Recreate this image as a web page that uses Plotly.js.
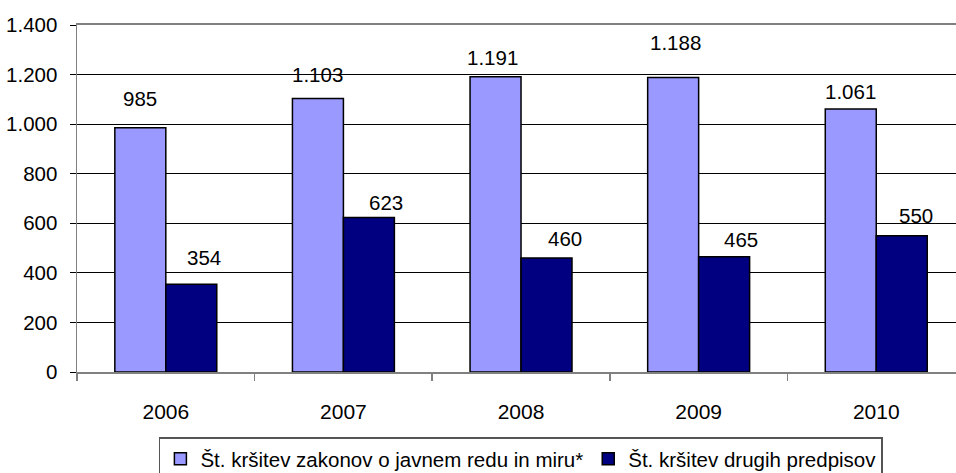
<!DOCTYPE html>
<html>
<head>
<meta charset="utf-8">
<script src="https://cdn.plot.ly/plotly-3.0.1.min.js"></script>
<style>html,body{margin:0;padding:0;background:#fff;}#chart{width:956px;height:473px;}</style>
</head>
<body>
<div id="chart"></div>
<script>
// Data
var years = ['2006', '2007', '2008', '2009', '2010'];
var zakoniValues = [985, 1103, 1191, 1188, 1061];
var drugiValues = [354, 623, 460, 465, 550];
var seriesNames = ['Št. kršitev zakonov o javnem redu in miru*', 'Št. kršitev drugih predpisov'];

// Label placement (pixel offsets, style only)
var zakLabelDy = [29, 24, 19, 35, 18];
var zakLabelDx = [0, 0, -3, 2, 0];
var drugiLabelDy = [27, 15, 19, 17, 20];
var drugiLabelDx = [13, 17, 18, 17, 14];

var FONT = 'Liberation Sans, Arial, sans-serif';

function fmt(v) {
  return String(v).replace(/\B(?=(\d{3})+(?!\d))/g, '.');
}

var traces = [
  {type: 'bar', name: seriesNames[0], x: years, y: zakoniValues,
   marker: {color: '#9999FF', line: {color: '#000000', width: 1.5}}, hoverinfo: 'none'},
  {type: 'bar', name: seriesNames[1], x: years, y: drugiValues,
   marker: {color: '#000080', line: {color: '#000000', width: 1.5}}, hoverinfo: 'none'}
];

var barHalfPx = 25.5;
var annotations = [];
years.forEach(function (yr, i) {
  annotations.push({xref: 'x', yref: 'y', x: i, y: zakoniValues[i], text: fmt(zakoniValues[i]),
    showarrow: false, xanchor: 'center', yanchor: 'middle',
    xshift: -barHalfPx + zakLabelDx[i], yshift: zakLabelDy[i],
    font: {family: FONT, size: 20.5, color: '#000'}});
  annotations.push({xref: 'x', yref: 'y', x: i, y: drugiValues[i], text: fmt(drugiValues[i]),
    showarrow: false, xanchor: 'center', yanchor: 'middle',
    xshift: barHalfPx + drugiLabelDx[i], yshift: drugiLabelDy[i],
    font: {family: FONT, size: 20.5, color: '#000'}});
});

var layout = {
  width: 956, height: 473,
  margin: {l: 77, r: 0, t: 25, b: 101, pad: 0, autoexpand: false},
  paper_bgcolor: '#ffffff', plot_bgcolor: '#ffffff',
  separators: ',.',
  font: {family: FONT, size: 20.5, color: '#000'},
  barmode: 'group', bargap: 0.426, bargroupgap: 0,
  showlegend: true,
  legend: {orientation: 'h', x: 0.505, xanchor: 'center', y: -0.1885, yanchor: 'top',
    font: {family: FONT, size: 20.5, color: '#000'},
    bgcolor: '#ffffff', bordercolor: '#555555', borderwidth: 1.5,
    itemwidth: 30, tracegroupgap: 0},
  xaxis: {type: 'category', range: [-0.5, 4.449], showgrid: false, zeroline: false,
    showline: true, linecolor: '#808080', linewidth: 2, mirror: true, automargin: false,
    ticks: 'outside', tickson: 'boundaries', ticklen: 7, tickcolor: '#808080', tickwidth: 1.5,
    ticklabelstandoff: 20,
    tickfont: {family: FONT, size: 21, color: '#000'}, fixedrange: true},
  yaxis: {range: [0, 1400], dtick: 200, tick0: 0, tickformat: ',d', automargin: false,
    showgrid: true, gridcolor: '#000000', gridwidth: 1, zeroline: false,
    showline: true, linecolor: '#808080', linewidth: 1.5,
    ticks: 'outside', ticklen: 6, tickcolor: '#000000', tickwidth: 1,
    ticklabelstandoff: 8,
    tickfont: {family: FONT, size: 20.5, color: '#000'}, fixedrange: true},
  annotations: annotations
};

Plotly.newPlot('chart', traces, layout, {displayModeBar: false, staticPlot: true});
</script>
</body>
</html>
